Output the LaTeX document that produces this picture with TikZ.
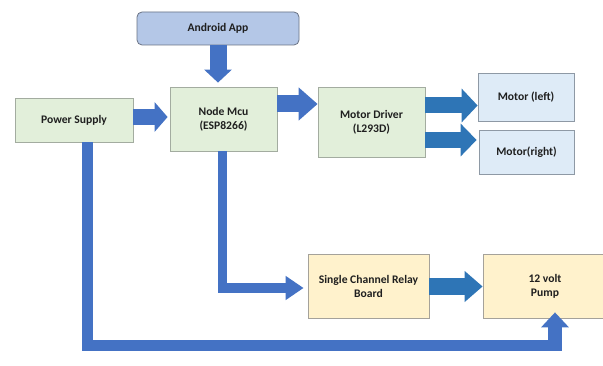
\documentclass[tikz,border=0pt]{standalone}
\usepackage{fontspec}
\setmainfont{Carlito}
\usetikzlibrary{arrows.meta,calc}
\definecolor{arrowblue}{HTML}{4472C4}
\definecolor{arrowblueb}{HTML}{2E75B6}
\definecolor{greenfill}{HTML}{E2EFDA}
\definecolor{greenline}{HTML}{A3ACA0}
\definecolor{appfill}{HTML}{B4C7E7}
\definecolor{appline}{HTML}{6A7384}
\definecolor{motorfill}{HTML}{DEEBF7}
\definecolor{motorline}{HTML}{8E99A5}
\definecolor{yellowfill}{HTML}{FFF2CC}
\definecolor{yellowline}{HTML}{A5A29A}
\definecolor{textcol}{HTML}{1F1F1F}
\begin{document}
\begin{tikzpicture}[x=1pt,y=-1pt,
  base/.style={inner sep=0pt, align=center, text=textcol,
    font=\fontsize{11.6}{14}\selectfont\bfseries, line width=0.8pt},
  greenbox/.style={base, draw=greenline, fill=greenfill},
  appbox/.style={base, draw=appline, fill=appfill, rounded corners=5pt},
  motorbox/.style={base, draw=motorline, fill=motorfill},
  yellowbox/.style={base, draw=yellowline, fill=yellowfill},
  fat/.style={draw=arrowblue, line join=miter}
]
\useasboundingbox[fill=white] (0,0) rectangle (603,366);

\node[appbox, minimum width=162pt, minimum height=33pt] (app) at (218,28.5) {Android App};
\node[greenbox, minimum width=118pt, minimum height=44pt] (ps) at (74,120) {Power Supply};
\node[greenbox, minimum width=107pt, minimum height=64pt] (mcu) at (223.5,119) {Node Mcu\\(ESP8266)};
\node[greenbox, minimum width=107pt, minimum height=70pt] (drv) at (371.5,122) {Motor Driver\\(L293D)};
\node[motorbox, minimum width=96pt, minimum height=48pt] (ml) at (526,97) {Motor (left)};
\node[motorbox, minimum width=95pt, minimum height=44pt] (mr) at (526.5,152) {Motor(right)};
\node[yellowbox, minimum width=121pt, minimum height=64pt] (relay) at (368.5,286) {Single Channel Relay\\Board};
\node[yellowbox, minimum width=124pt, minimum height=64pt] (pump) at (545,286) {12 volt\\Pump};

% Android -> Node Mcu
\draw[fat, line width=17pt, shorten >=4pt, -{Triangle[length=13pt,width=27pt]}]
  (app.south) -- (app.south |- mcu.north);
% Power Supply -> Node Mcu
\draw[fat, line width=16pt, shorten >=2pt, -{Triangle[length=13pt,width=29pt]}]
  ([yshift=3pt]ps.east) -- ([yshift=3pt]ps.east -| mcu.west);
% Node Mcu -> Motor Driver
\draw[fat, line width=17pt, -{Triangle[length=19pt,width=32pt]}]
  ([yshift=15pt]mcu.east) -- ([yshift=15pt]mcu.east -| drv.west);
% Motor Driver -> Motors
\draw[fat, draw=arrowblueb, line width=16pt, -{Triangle[length=16pt,width=33pt]}]
  ([yshift=16.5pt]drv.east) -- ([yshift=16.5pt]drv.east -| ml.west);
\draw[fat, draw=arrowblueb, line width=16pt, shorten >=2pt, -{Triangle[length=16pt,width=32pt]}]
  ([yshift=-18pt]drv.east) -- ([yshift=-18pt]drv.east -| mr.west);
% Node Mcu -> Relay
\draw[fat, line width=9.5pt, shorten >=4pt, -{Triangle[length=18pt,width=23pt]}]
  ([xshift=-1pt]mcu.south) |- ([yshift=-2pt]relay.west);
% Relay -> Pump
\draw[fat, draw=arrowblueb, line width=17pt, -{Triangle[length=18pt,width=30pt]}]
  ([yshift=-0.5pt]relay.east) -- ([yshift=-0.5pt]relay.east -| pump.west);
% Power Supply -> Pump
\coordinate (c1) at (87.5,345.5);
\coordinate (c2) at (555,345.5);
\coordinate (c3) at (555,351);
\coordinate (pin) at ($(pump.south)+(10,-6)$);
\draw[fat, line width=10.5pt] ([xshift=13.5pt]ps.south) -- (c1) -- ([xshift=7pt]c2);
\draw[fat, line width=14pt, -{Triangle[length=15pt,width=27pt]}] (c3) -- (pin);
\end{tikzpicture}
\end{document}
